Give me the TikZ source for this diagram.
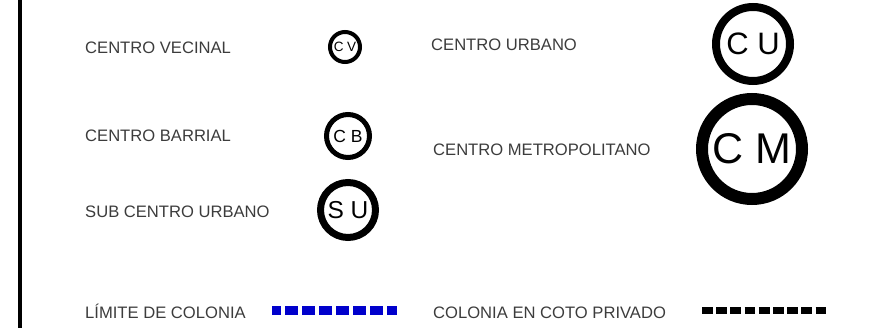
\documentclass[tikz,border=0pt]{standalone}
\usepackage{fontspec}
\setmainfont{Liberation Sans}
\definecolor{labelgray}{RGB}{60,60,60}
\definecolor{limblue}{RGB}{0,0,204}
\begin{document}
\begin{tikzpicture}[x=1pt,y=-1pt,
  lbl/.style={anchor=base west,inner sep=0pt,text=labelgray,font=\fontsize{16.6}{18}\selectfont},
  ring/.style={circle,draw=black,inner sep=0pt,text=black}]
\useasboundingbox (0,0) rectangle (870,328);
% left bar
\coordinate (bt) at (20,0);
\coordinate (bb) at (20,328);
\draw[line width=4pt] (bt) -- (bb);
% labels
\node[lbl] (lcv) at (85,54) {CENTRO VECINAL};
\node[lbl] (lcb) at (85,142) {CENTRO BARRIAL};
\node[lbl] (lsu) at (85,218) {SUB CENTRO URBANO};
\node[lbl] (llc) at (85,318.5) {LÍMITE DE COLONIA};
\node[lbl] (lcu) at (431,51) {CENTRO URBANO};
\node[lbl] (lcm) at (433,156) {CENTRO METROPOLITANO};
\node[lbl] (lcp) at (433,318.5) {COLONIA EN COTO PRIVADO};
% circles
\node[ring,line width=4pt,minimum size=30pt,font=\fontsize{13.5}{15}\selectfont] (cv) at (345,47) {C V};
\node[ring,line width=5pt,minimum size=43pt,font=\fontsize{17.5}{19}\selectfont] (cb) at (348,136) {C B};
\node[ring,line width=7pt,minimum size=55pt,font=\fontsize{24.5}{27}\selectfont] (su) at (348,210) {S U};
\node[ring,line width=8pt,minimum size=74pt,font=\fontsize{31}{34}\selectfont] (cu) at (753,44) {C U};
\node[ring,line width=12pt,minimum size=100pt,font=\fontsize{43}{46}\selectfont] (cm) at (752,149) {C M};
% legend lines
\coordinate (b1) at (272,310.5);
\coordinate (b2) at (397,310.5);
\draw[limblue,line width=9pt,dash pattern=on 13pt off 4pt,dash phase=4pt] (b1) -- (b2);
\coordinate (k1) at (702,310.5);
\coordinate (k2) at (827,310.5);
\draw[black,line width=7pt,dash pattern=on 10.8pt off 3.4pt] (k1) -- (k2);
\end{tikzpicture}
\end{document}
